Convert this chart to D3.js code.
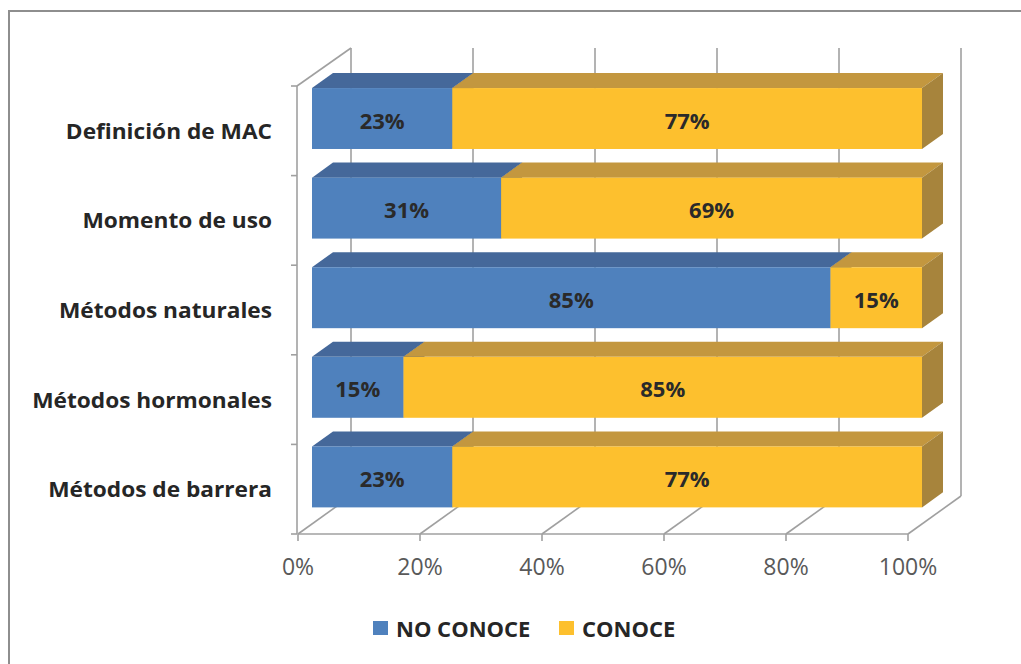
<!DOCTYPE html>
<html>
<head>
<meta charset="utf-8">
<script src="https://cdn.jsdelivr.net/npm/d3@7"></script>
<style>
  html, body { margin: 0; padding: 0; background: #fff; }
  svg { display: block; }
  text { font-family: "Open Sans", "DejaVu Sans", sans-serif; }
</style>
</head>
<body>
<svg id="chart" width="1021" height="664"></svg>
<script>
// Conocimiento sobre métodos anticonceptivos (MAC), porcentaje por tema
const categories = ["Definición de MAC", "Momento de uso", "Métodos naturales", "Métodos hormonales", "Métodos de barrera"];
const noConoce = [23, 31, 85, 15, 23];
const conoce = [77, 69, 15, 85, 77];
const seriesNames = ["NO CONOCE", "CONOCE"];
const tickValues = [0, 20, 40, 60, 80, 100];
const tickLabels = ["0%", "20%", "40%", "60%", "80%", "100%"];

const svg = d3.select("#chart");
const W = 1021, H = 664;

// Face colours for each series: front, top, side
const faces = [
  { front: "#4F81BD", top: "#45689A", side: "#3C5C86" },
  { front: "#FDC02E", top: "#C3973F", side: "#A7843C" }
];

// Oblique 3D frame: front floor plane plus a depth vector toward the back wall
const depth = { dx: 53, dy: -38 };
const x = d3.scaleLinear().domain([0, 100]).range([298, 908]);
const y = d3.scaleBand().domain(categories).range([86, 534]);
const proj = (v, yy, d) => [x(v) + d * depth.dx, yy + d * depth.dy];

// Chart area outline (top and left edges)
svg.append("path")
  .attr("d", `M9,${H} L9,11 L${W},11`)
  .attr("fill", "none").attr("stroke", "#8e8e8e").attr("stroke-width", 2);

const grid = svg.append("g").attr("fill", "none").attr("stroke", "#a0a0a0").attr("stroke-width", 1.6);
const yTop = y.range()[0], yBot = y.range()[1];

// Back-wall gridlines and floor lines for every tick
tickValues.forEach(v => {
  const [bx0, by0] = proj(v, yTop, 1);
  const [bx1, by1] = proj(v, yBot, 1);
  grid.append("line").attr("x1", bx0).attr("y1", by0).attr("x2", bx1).attr("y2", by1);
  const [fx, fy] = proj(v, yBot, 0);
  grid.append("line").attr("x1", fx).attr("y1", fy).attr("x2", bx1).attr("y2", by1);
  // tick mark below the floor edge
  grid.append("line").attr("x1", fx).attr("y1", fy).attr("x2", fx).attr("y2", fy + 7);
});

// Floor front edge
{
  const [a, ay] = proj(0, yBot, 0), [b, by] = proj(100, yBot, 0);
  grid.append("line").attr("x1", a).attr("y1", ay).attr("x2", b).attr("y2", by);
}
// Left wall: front vertical edge and top slanted edge
{
  const [fx0, fy0] = proj(0, yTop, 0), [fx1, fy1] = proj(0, yBot, 0);
  const [bx0, by0] = proj(0, yTop, 1);
  grid.append("line").attr("x1", fx0 - 1).attr("y1", fy0).attr("x2", fx1 - 1).attr("y2", fy1);
  grid.append("line").attr("x1", fx0 - 1).attr("y1", fy0).attr("x2", bx0).attr("y2", by0);
  // category ticks on the left axis
  categories.concat([null]).forEach((c, i) => {
    const yy = c === null ? yBot : y(c);
    grid.append("line").attr("x1", fx0 - 7).attr("y1", yy).attr("x2", fx0 - 1).attr("y2", yy);
  });
}

// Bars: each stacked segment is a box with front, top and right side face
const d0 = 14 / 53, d1 = 35 / 53;
const bars = svg.append("g");
categories.forEach((c, i) => {
  const vals = [noConoce[i], conoce[i]];
  const yf0 = y(c) + y.bandwidth() * 0.135;
  const yf1 = yf0 + y.bandwidth() * 0.68;
  let start = 0;
  vals.forEach((v, s) => {
    const end = start + v;
    const f = faces[s];
    const p = (val, yy, d) => proj(val, yy, d).join(",");
    // top face
    bars.append("polygon")
      .attr("points", [p(start, yf0, d0), p(end, yf0, d0), p(end, yf0, d1), p(start, yf0, d1)].join(" "))
      .attr("fill", f.top);
    // right side face
    bars.append("polygon")
      .attr("points", [p(end, yf0, d0), p(end, yf0, d1), p(end, yf1, d1), p(end, yf1, d0)].join(" "))
      .attr("fill", f.side);
    // front face
    const [x0, y0] = proj(start, yf0, d0);
    const [x1, y1] = proj(end, yf1, d0);
    bars.append("rect")
      .attr("x", x0).attr("y", y0).attr("width", x1 - x0).attr("height", y1 - y0)
      .attr("fill", f.front);
    // value label
    bars.append("text")
      .attr("x", (x0 + x1) / 2).attr("y", (y0 + y1) / 2 + 10)
      .attr("text-anchor", "middle")
      .attr("font-size", 22).attr("font-weight", 700).attr("fill", "#2a2a2a")
      .text(v + "%");
    start = end;
  });
});

// Category labels (slightly widened lettering)
svg.append("g").selectAll("text").data(categories).join("text")
  .attr("transform", d => `translate(272,${y(d) + y.bandwidth() / 2 + 8}) scale(1.08,1)`)
  .attr("text-anchor", "end")
  .attr("font-size", 21).attr("font-weight", 700).attr("fill", "#262626")
  .text(d => d);

// Value axis labels
svg.append("g").selectAll("text").data(tickValues).join("text")
  .attr("x", d => x(d)).attr("y", 575)
  .attr("text-anchor", "middle")
  .attr("font-size", 23).attr("fill", "#595959")
  .text((d, i) => tickLabels[i]);

// Legend
const legend = svg.append("g");
const legendX = [373, 559];
seriesNames.forEach((name, i) => {
  legend.append("rect").attr("x", legendX[i]).attr("y", 621).attr("width", 15).attr("height", 14)
    .attr("fill", faces[i].front);
  legend.append("text").attr("x", legendX[i] + 23).attr("y", 637)
    .attr("font-size", 22).attr("font-weight", 700).attr("fill", "#262626")
    .text(name);
});
</script>
</body>
</html>
